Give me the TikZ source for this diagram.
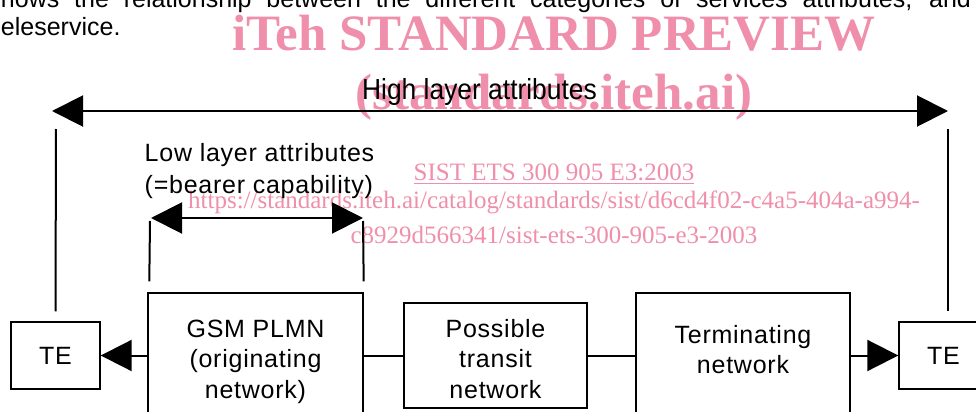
\documentclass[tikz,border=0pt]{standalone}
\usepackage{fontspec}
\setmainfont{Liberation Sans}
\newfontfamily\spacedfont[LetterSpace=3]{Liberation Sans}
\newfontfamily\narrowfont[FakeStretch=0.91]{Liberation Sans}
\newfontfamily\wmfont{Liberation Serif}
\usetikzlibrary{arrows.meta,positioning}
\definecolor{wmpink}{RGB}{239,143,171}

\tikzset{
  netbox/.style={draw,line width=0.7pt,align=center,inner sep=0pt,
    font=\spacedfont\fontsize{12.5}{15.25}\selectfont},
  tebox/.style={netbox,minimum width=44.5pt,minimum height=33.5pt},
  lbl/.style={inner sep=0pt,font=\spacedfont\fontsize{12.5}{16}\selectfont},
  wmark/.style={text=wmpink,inner sep=0pt,anchor=base}
}

\begin{document}
\begin{tikzpicture}[x=0.5pt,y=-0.5pt,line width=1pt,
    >={Triangle[length=15.5pt,width=15.5pt]}]
  \useasboundingbox (0,0) rectangle (976,412);

  % text of the page round the figure
  \node[anchor=base west,inner sep=0pt,font=\fontsize{12.5}{14}\selectfont] (para1) at (0,7)
    {\makebox[485pt][s]{hows the relationship between the different categories of services attributes, and}};
  \node[anchor=base west,inner sep=0pt,font=\fontsize{12.5}{14}\selectfont] (para2) at (0,35) {eleservice.};

  \node[wmark,font=\wmfont\bfseries\fontsize{25.5}{30}\selectfont] (wm1) at (554,50) {iTeh STANDARD PREVIEW};
  \node[wmark,font=\wmfont\bfseries\fontsize{25.5}{30}\selectfont] (wm2) at (554,109) {(standards.iteh.ai)};
  \node[wmark,font=\wmfont\fontsize{12.5}{15}\selectfont] (wm3) at (554,180) {\underline{SIST ETS 300 905 E3:2003}};
  \node[wmark,font=\wmfont\fontsize{12.5}{15}\selectfont] (wm4) at (554,208)
    {https://standards.iteh.ai/catalog/standards/sist/d6cd4f02-c4a5-404a-a994-};
  \node[wmark,font=\wmfont\fontsize{12.5}{15}\selectfont] (wm5) at (554,243)
    {c8929d566341/sist-ets-300-905-e3-2003};

  % boxes
  \node[tebox] (teL) at (55.5,355.5) {TE};
  \node[netbox,minimum width=107.5pt,minimum height=62.5pt,text height=42.5pt,text depth=0pt] (gsm) at (255.5,355.5)
    {GSM PLMN\\(originating\\network)};
  \node[netbox,minimum width=91.5pt,minimum height=52.5pt,text height=42.5pt,text depth=0pt] (transit) at (495.5,355.5)
    {Possible\\transit\\network};
  \node[netbox,minimum width=107pt,minimum height=62.5pt,text depth=6pt] (term) at (743,355.5)
    {Terminating\\network};
  \node[tebox] (teR) at (943.5,355.5) {TE};

  \draw[->] (gsm) -- (teL);
  \draw (gsm) -- (transit);
  \draw (transit) -- (term);
  \draw[->] (term) -- (teR);

  % high layer
  \coordinate (hiL) at (52,111);
  \coordinate (hiR) at (948,111);
  \draw[<->] (hiL) -- (hiR);
  \draw (56,129) -- ([yshift=5pt]teL.north);
  \draw (948,129) -- ([xshift=2.25pt,yshift=5pt]teR.north);
  \node[inner sep=0pt,anchor=base,font=\narrowfont\fontsize{14.5}{16}\selectfont] (high) at (479.5,99)
    {High layer attributes};

  % low layer
  \coordinate (loL) at (151,218);
  \coordinate (loR) at (363,218);
  \draw[<->] (loL) -- (loR);
  \draw (150,221) -- ([xshift=1pt,yshift=5.5pt]gsm.north west);
  \draw (363,221) -- ([yshift=5.5pt]gsm.north east);
  \node[lbl,align=left] (low) at (259.5,171) {Low layer attributes\\(=bearer capability)};
\end{tikzpicture}
\end{document}
